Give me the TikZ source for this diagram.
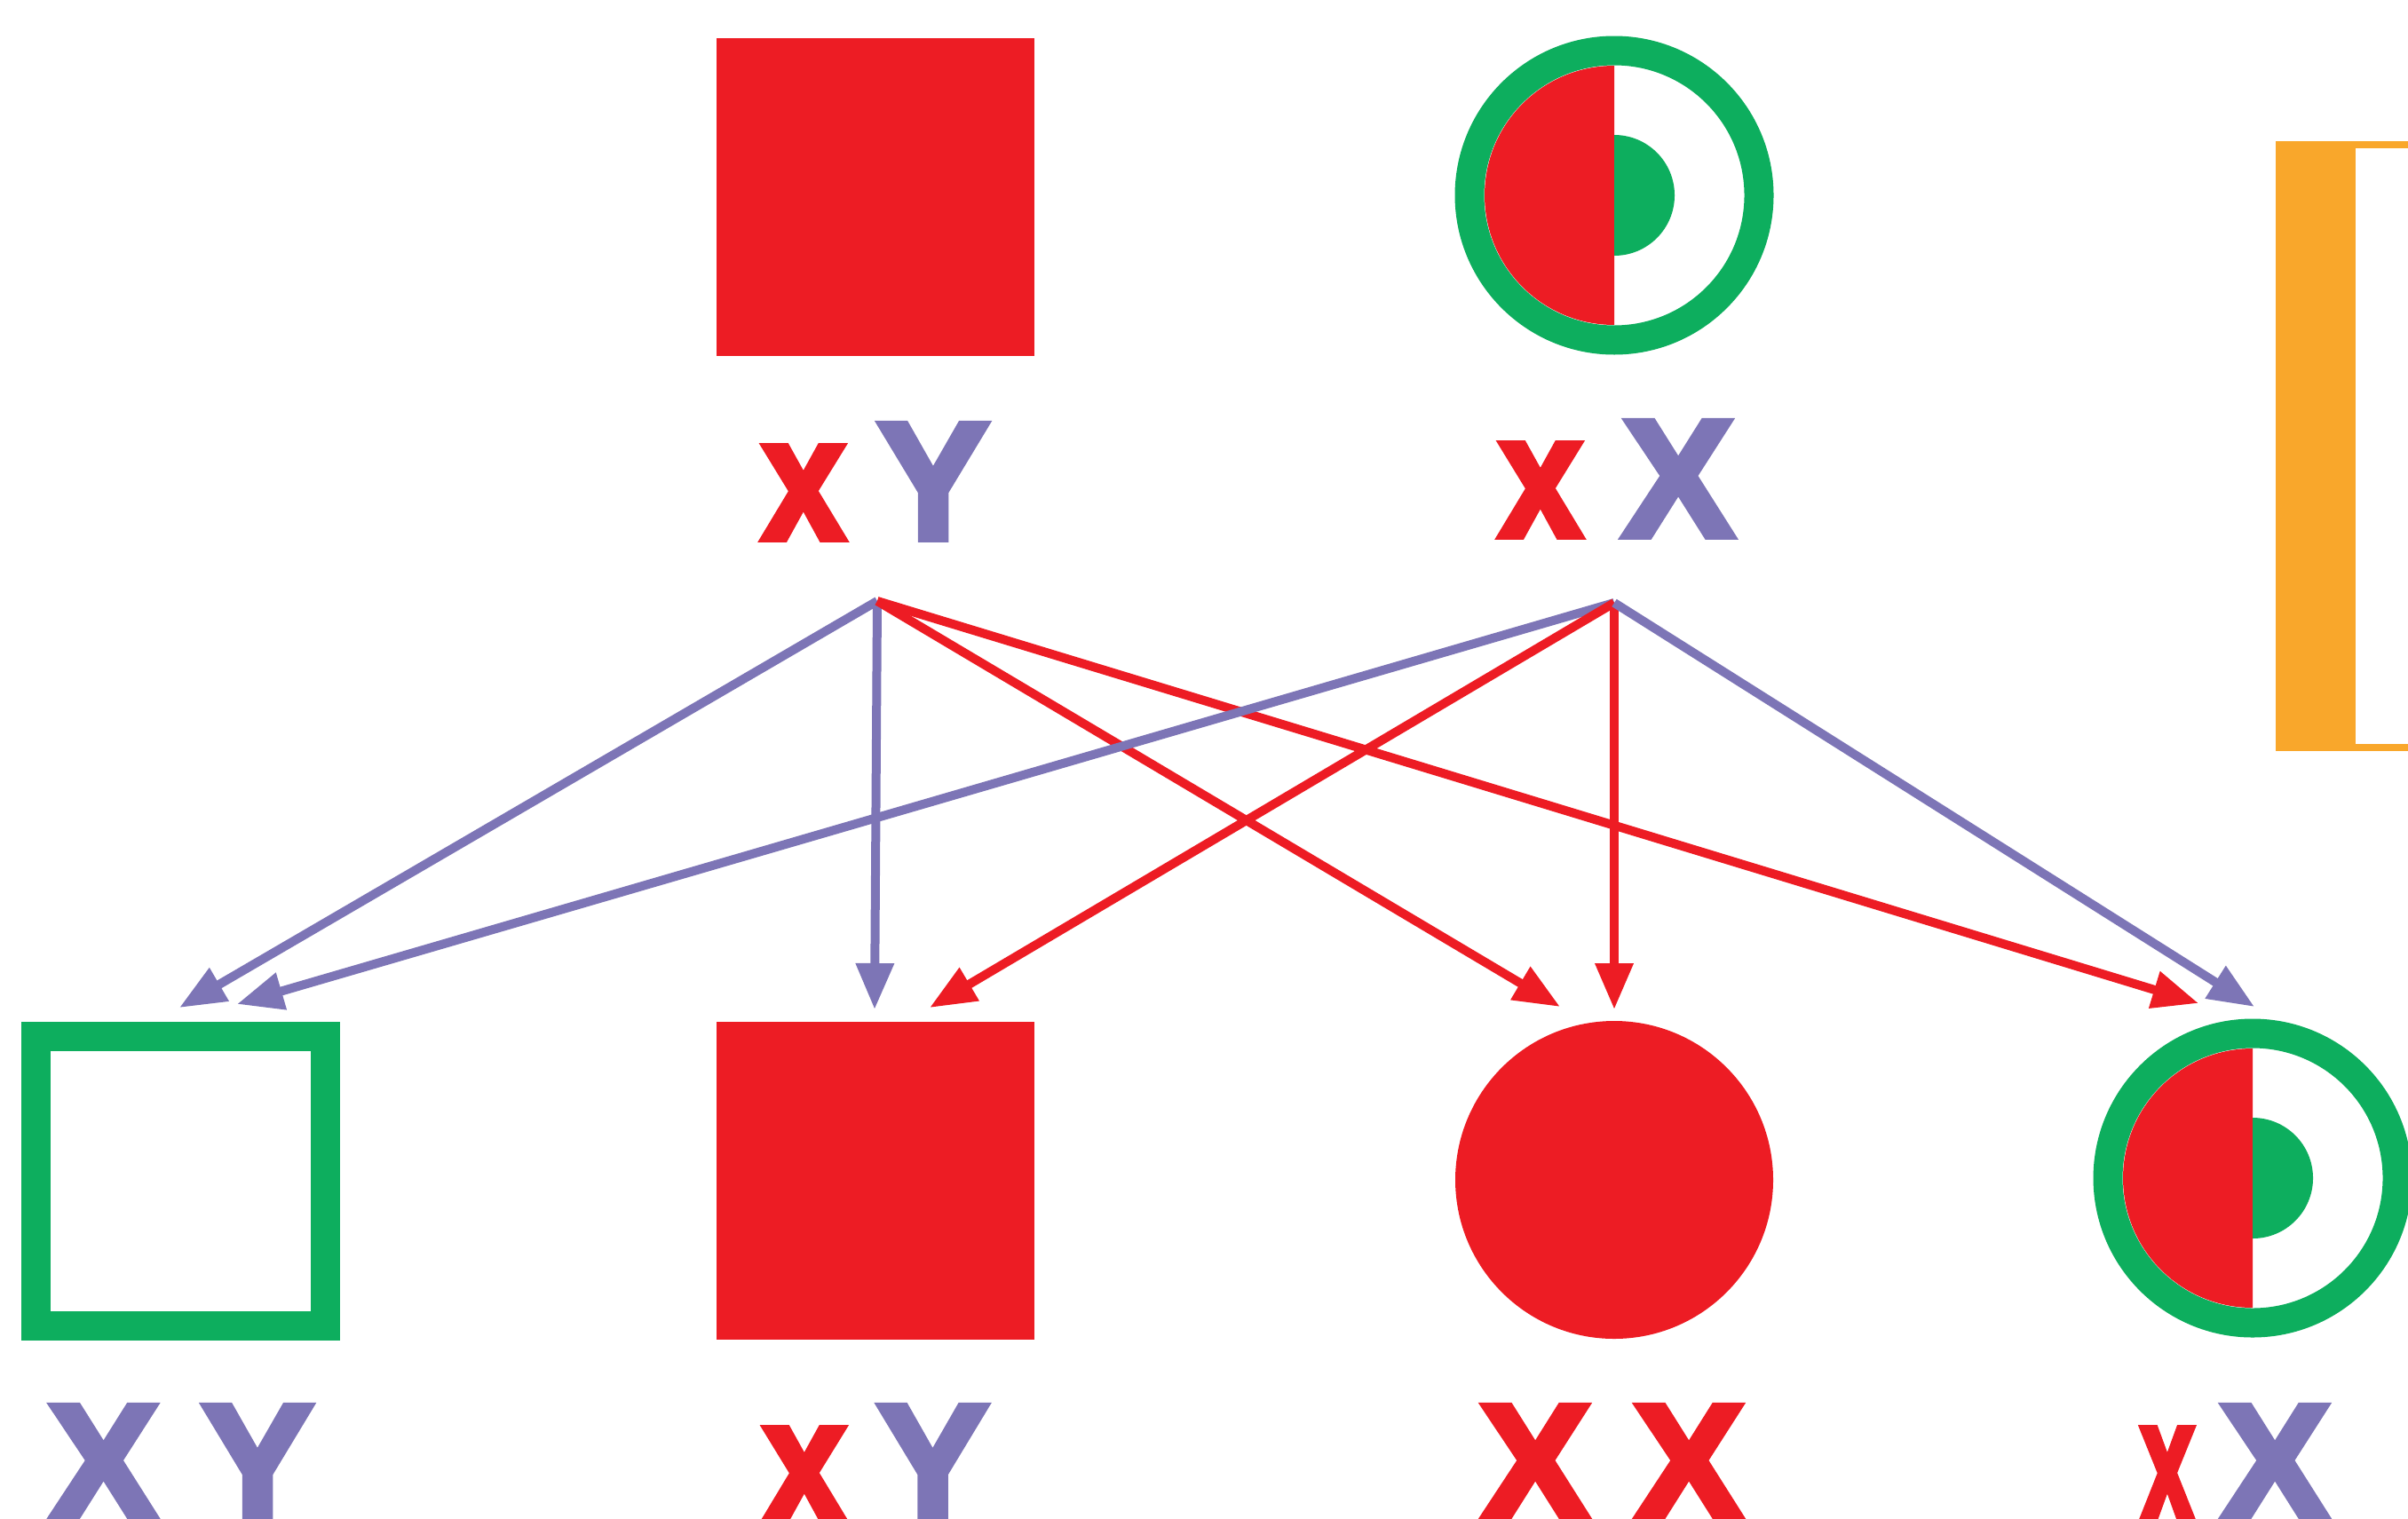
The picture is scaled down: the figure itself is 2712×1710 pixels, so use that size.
\documentclass[tikz,border=0pt]{standalone}
\usepackage{fontspec}
\setmainfont{Liberation Sans}[BoldFeatures={FakeBold=4}]
\usetikzlibrary{arrows.meta}
\definecolor{xred}{RGB}{237,28,36}
\definecolor{ypurple}{RGB}{125,117,182}
\definecolor{carrier}{RGB}{13,174,94}
\definecolor{bracket}{RGB}{249,167,43}
\newcommand{\smallx}{\scalebox{.85}[1]{x}}
\newcommand{\thinx}{\scalebox{.56}[1]{x}}
\tikzset{
  affected/.style={fill=xred,inner sep=0pt,minimum size=35.8mm},
  ring/.style={draw=carrier,line width=3.3mm,inner sep=0pt,minimum size=32.6mm},
  caplbl/.style={anchor=base,inner sep=0pt,font=\fontsize{53.5}{53.5}\selectfont\bfseries},
  lowlbl/.style={anchor=base,inner sep=0pt,font=\fontsize{56}{56}\selectfont\bfseries,text=xred},
  fromx/.style={draw=xred,line width=1mm,->},
  fromy/.style={draw=ypurple,line width=1mm,->}
}
\begin{document}
\begin{tikzpicture}[x=.1mm,y=-.1mm,>={Triangle[length=5.2mm,width=4.1mm]}]
\clip (0,0) rectangle (2712,1710);
% parents
\node[affected,rectangle] (dad) at (986,222) {};
\node[ring,circle] (mum) at (1818,220) {};
\fill[xred] (mum.center) ++(0,146) arc[start angle=90,end angle=270,radius=146] -- cycle;
\fill[carrier] (mum.center) ++(0,-68) arc[start angle=270,end angle=450,radius=68] -- cycle;
\node[lowlbl] (dadx) at (905,607) {\smallx};
\node[caplbl,text=ypurple] (dady) at (1051,607) {Y};
\node[lowlbl] (mumx) at (1735,604) {\smallx};
\node[caplbl,text=ypurple] (mumX) at (1890,604) {X};
\coordinate (fa) at (988,677);
\coordinate (mo) at (1818,679);

% children
\node[ring,rectangle] (son1) at (203.5,1330) {};
\node[affected,rectangle] (son2) at (986,1330) {};
\node[affected,circle] (dau1) at (1818,1329) {};
\node[ring,circle] (dau2) at (2537,1327) {};
\fill[xred] (dau2.center) ++(0,146) arc[start angle=90,end angle=270,radius=146] -- cycle;
\fill[carrier] (dau2.center) ++(0,-68) arc[start angle=270,end angle=450,radius=68] -- cycle;
\node[caplbl,text=ypurple] (son1X) at (116.5,1713) {X};
\node[caplbl,text=ypurple] (son1Y) at (290,1713) {Y};
\node[lowlbl] (son2x) at (906,1713) {\smallx};
\node[caplbl,text=ypurple] (son2Y) at (1050.5,1713) {Y};
\node[caplbl,text=xred] (dau1X) at (1729,1713) {X};
\node[caplbl,text=xred] (dau1Xb) at (1902,1713) {X};
\node[lowlbl] (dau2x) at (2441,1713) {\thinx};
\node[caplbl,text=ypurple] (dau2X) at (2562,1713) {X};

% arrow tips above the children
\coordinate (s1y) at (202,1135);
\coordinate (s1x) at (267,1131);
\coordinate (s2y) at (985,1137);
\coordinate (s2x) at (1047,1135);
\coordinate (d1a) at (1757,1134);
\coordinate (d1b) at (1818,1137);
\coordinate (d2a) at (2476,1130);
\coordinate (d2b) at (2539,1134);

\draw[fromy] (fa) -- (s1y);
\draw[fromy] (fa) -- (s2y);
\draw[fromx] (fa) -- (d1a);
\draw[fromx] (fa) -- (d2a);
\draw[fromy] (mo) -- (s1x);
\draw[fromx] (mo) -- (s2x);
\draw[fromx] (mo) -- (d1b);
\draw[fromy] (mo) -- (d2b);

% orange bracket at the edge
\fill[bracket] (2563,159) rectangle (2712,846);
\fill[white] (2653,167) rectangle (2712,838);
\end{tikzpicture}
\end{document}
